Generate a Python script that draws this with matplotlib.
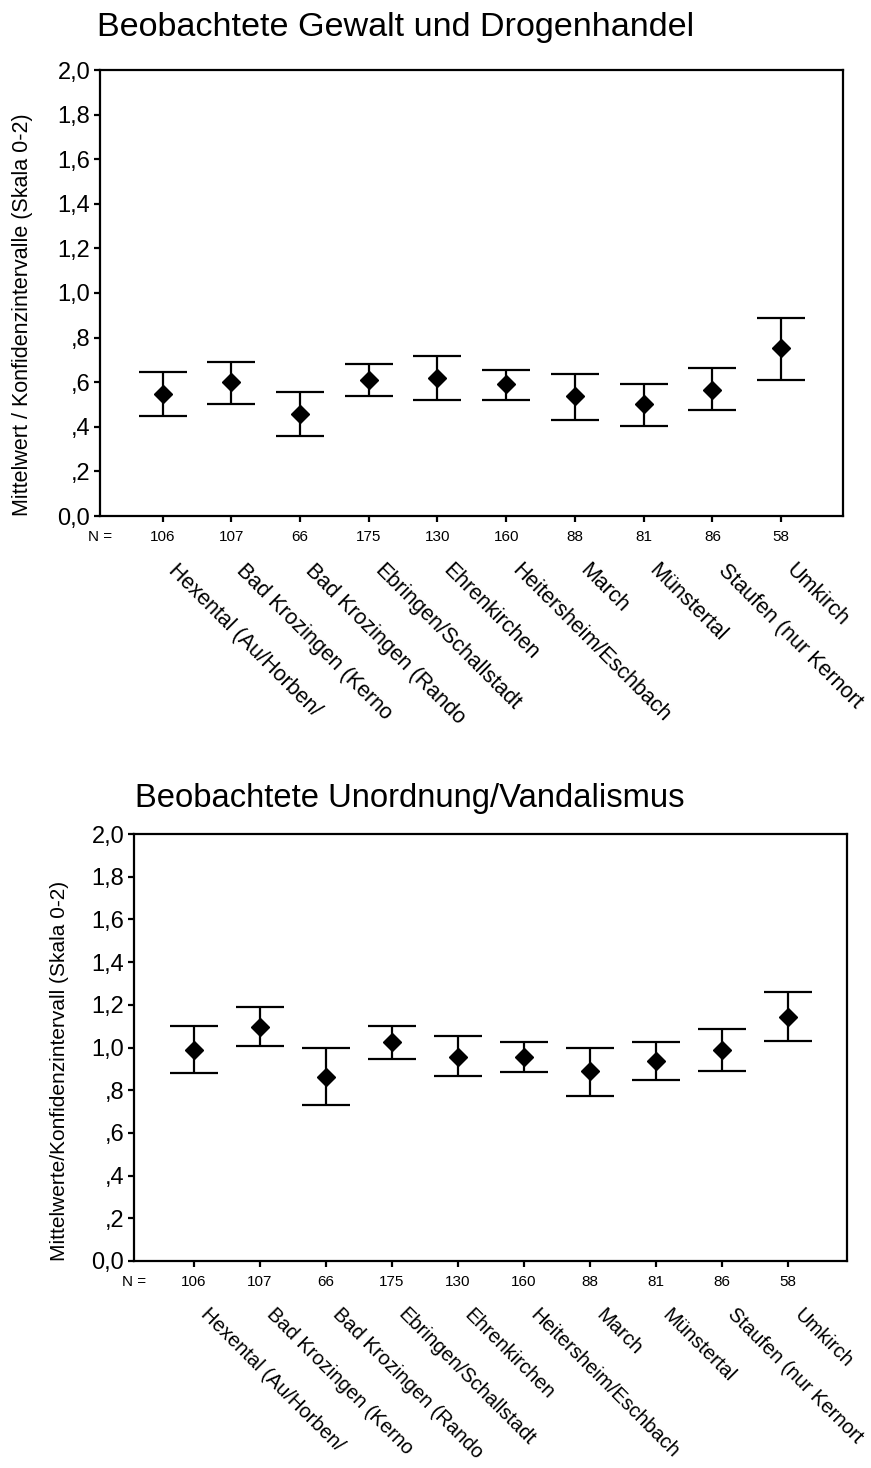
import numpy as np
import matplotlib
matplotlib.use("Agg")
import matplotlib.pyplot as plt

plt.rcParams["font.family"] = ["Liberation Sans", "DejaVu Sans"]

# Data
orte = ["Hexental (Au/Horben/", "Bad Krozingen (Kerno", "Bad Krozingen (Rando",
        "Ebringen/Schallstadt", "Ehrenkirchen", "Heitersheim/Eschbach",
        "March", "Münstertal", "Staufen (nur Kernort", "Umkirch"]
n_werte = [106, 107, 66, 175, 130, 160, 88, 81, 86, 58]

gewalt_mean = [0.547, 0.600, 0.456, 0.608, 0.617, 0.592, 0.537, 0.501, 0.565, 0.752]
gewalt_lo = [0.448, 0.502, 0.357, 0.538, 0.520, 0.522, 0.430, 0.404, 0.475, 0.608]
gewalt_hi = [0.644, 0.691, 0.556, 0.682, 0.719, 0.655, 0.637, 0.592, 0.664, 0.888]

vand_mean = [0.990, 1.097, 0.863, 1.027, 0.954, 0.954, 0.891, 0.935, 0.990, 1.144]
vand_lo = [0.882, 1.008, 0.731, 0.946, 0.865, 0.884, 0.774, 0.848, 0.891, 1.029]
vand_hi = [1.099, 1.188, 0.999, 1.099, 1.054, 1.026, 0.999, 1.026, 1.088, 1.260]

y_ticks = [0.0, 0.2, 0.4, 0.6, 0.8, 1.0, 1.2, 1.4, 1.6, 1.8, 2.0]
y_ticklabels = ["0,0", ",2", ",4", ",6", ",8", "1,0", "1,2", "1,4", "1,6", "1,8", "2,0"]

W, H = 871, 1468
fig = plt.figure(figsize=(W / 100, H / 100), dpi=100)


def panel(rect, title, title_xy, title_size, ylabel, ylabel_size, cat_size,
          mean, lo, hi):
    ax = fig.add_axes(rect)
    x = np.arange(len(mean))
    mean = np.array(mean)
    err = [mean - np.array(lo), np.array(hi) - mean]
    ax.errorbar(x, mean, yerr=err, fmt="D", color="black", ms=9,
                elinewidth=1.6, capsize=17.5, capthick=1.6)
    ax.set_xlim(-0.91, 9.9)
    ax.set_ylim(0, 2)
    ax.set_yticks(y_ticks, y_ticklabels, fontsize=17)
    ax.set_xticks(x, [str(v) for v in n_werte], fontsize=11)
    for s in ax.spines.values():
        s.set_linewidth(1.6)
    ax.tick_params(axis="both", direction="out", length=4, width=1.6)
    ax.tick_params(axis="x", pad=6)
    ax.tick_params(axis="y", pad=3)
    ax.annotate("N =", xy=(0, 0), xycoords="axes fraction",
                xytext=(0, -21), textcoords="offset pixels",
                ha="center", va="center", fontsize=11)
    for i, name in enumerate(orte):
        ax.annotate(name, xy=(i, 0), xycoords=("data", "axes fraction"),
                    xytext=(16, -44), textcoords="offset pixels",
                    rotation=-45, rotation_mode="anchor",
                    ha="left", va="top", fontsize=cat_size)
    ax.text(-0.104, 0, ylabel, transform=ax.transAxes, rotation=90,
            rotation_mode="anchor", ha="left", va="center", fontsize=ylabel_size)
    fig.text(title_xy[0] / W, 1 - title_xy[1] / H, title,
             ha="left", va="baseline", fontsize=title_size)
    return ax


panel([100 / W, 1 - 516 / H, 743 / W, 446 / H],
      "Beobachtete Gewalt und Drogenhandel", (97, 36), 24.6,
      "Mittelwert / Konfidenzintervalle (Skala 0-2)", 15.5, 15.5,
      gewalt_mean, gewalt_lo, gewalt_hi)

panel([134 / W, 1 - 1261 / H, 713 / W, 427 / H],
      "Beobachtete Unordnung/Vandalismus", (135, 807), 23.6,
      "Mittelwerte/Konfidenzintervall (Skala 0-2)", 15, 14.5,
      vand_mean, vand_lo, vand_hi)

fig.savefig("out.png", dpi=100)
